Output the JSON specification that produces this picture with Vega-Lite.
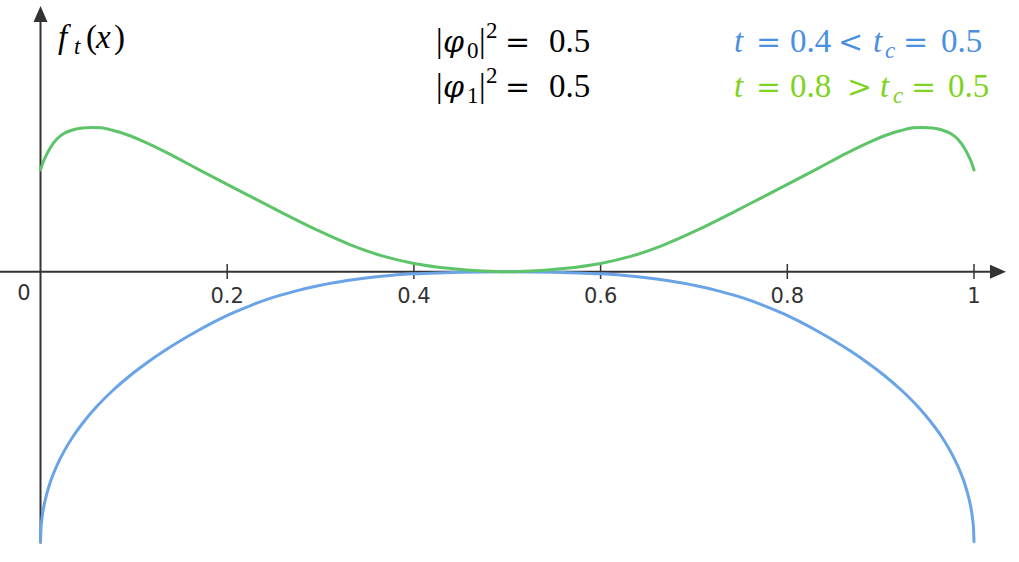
{
  "$schema": "https://vega.github.io/schema/vega-lite/v6.json",
  "width": 1019,
  "height": 562,
  "autosize": {"type": "none"},
  "padding": 0,
  "background": "white",
  "config": {"view": {"stroke": null}},
  "datasets": {
    "one": [{}],
    "curves": [
      {"x": 0, "f": -1.0, "series": "t=0.4"},
      {"x": 0.0005, "f": -0.95, "series": "t=0.4"},
      {"x": 0.001, "f": -0.93, "series": "t=0.4"},
      {"x": 0.0025, "f": -0.89, "series": "t=0.4"},
      {"x": 0.005, "f": -0.846, "series": "t=0.4"},
      {"x": 0.01, "f": -0.784, "series": "t=0.4"},
      {"x": 0.017, "f": -0.722, "series": "t=0.4"},
      {"x": 0.025, "f": -0.666, "series": "t=0.4"},
      {"x": 0.035, "f": -0.609, "series": "t=0.4"},
      {"x": 0.047, "f": -0.5525, "series": "t=0.4"},
      {"x": 0.06, "f": -0.5, "series": "t=0.4"},
      {"x": 0.078, "f": -0.4378, "series": "t=0.4"},
      {"x": 0.096, "f": -0.384, "series": "t=0.4"},
      {"x": 0.114, "f": -0.3366, "series": "t=0.4"},
      {"x": 0.1315, "f": -0.295, "series": "t=0.4"},
      {"x": 0.149, "f": -0.2569, "series": "t=0.4"},
      {"x": 0.167, "f": -0.221, "series": "t=0.4"},
      {"x": 0.185, "f": -0.1876, "series": "t=0.4"},
      {"x": 0.203, "f": -0.157, "series": "t=0.4"},
      {"x": 0.225, "f": -0.125, "series": "t=0.4"},
      {"x": 0.246, "f": -0.0985, "series": "t=0.4"},
      {"x": 0.273, "f": -0.0715, "series": "t=0.4"},
      {"x": 0.3, "f": -0.05, "series": "t=0.4"},
      {"x": 0.327, "f": -0.0335, "series": "t=0.4"},
      {"x": 0.353, "f": -0.021, "series": "t=0.4"},
      {"x": 0.377, "f": -0.0125, "series": "t=0.4"},
      {"x": 0.4, "f": -0.0075, "series": "t=0.4"},
      {"x": 0.425, "f": -0.004, "series": "t=0.4"},
      {"x": 0.45, "f": -0.0017, "series": "t=0.4"},
      {"x": 0.475, "f": -0.0004, "series": "t=0.4"},
      {"x": 0.5, "f": 0, "series": "t=0.4"},
      {"x": 0.525, "f": -0.0004, "series": "t=0.4"},
      {"x": 0.55, "f": -0.0017, "series": "t=0.4"},
      {"x": 0.575, "f": -0.004, "series": "t=0.4"},
      {"x": 0.6, "f": -0.0075, "series": "t=0.4"},
      {"x": 0.623, "f": -0.0125, "series": "t=0.4"},
      {"x": 0.647, "f": -0.021, "series": "t=0.4"},
      {"x": 0.673, "f": -0.0335, "series": "t=0.4"},
      {"x": 0.7, "f": -0.05, "series": "t=0.4"},
      {"x": 0.727, "f": -0.0715, "series": "t=0.4"},
      {"x": 0.754, "f": -0.0985, "series": "t=0.4"},
      {"x": 0.775, "f": -0.125, "series": "t=0.4"},
      {"x": 0.797, "f": -0.157, "series": "t=0.4"},
      {"x": 0.815, "f": -0.1876, "series": "t=0.4"},
      {"x": 0.833, "f": -0.221, "series": "t=0.4"},
      {"x": 0.851, "f": -0.2569, "series": "t=0.4"},
      {"x": 0.8685, "f": -0.295, "series": "t=0.4"},
      {"x": 0.886, "f": -0.3366, "series": "t=0.4"},
      {"x": 0.904, "f": -0.384, "series": "t=0.4"},
      {"x": 0.922, "f": -0.4378, "series": "t=0.4"},
      {"x": 0.94, "f": -0.5, "series": "t=0.4"},
      {"x": 0.953, "f": -0.5525, "series": "t=0.4"},
      {"x": 0.965, "f": -0.609, "series": "t=0.4"},
      {"x": 0.975, "f": -0.666, "series": "t=0.4"},
      {"x": 0.983, "f": -0.722, "series": "t=0.4"},
      {"x": 0.99, "f": -0.784, "series": "t=0.4"},
      {"x": 0.995, "f": -0.846, "series": "t=0.4"},
      {"x": 0.9975, "f": -0.89, "series": "t=0.4"},
      {"x": 0.999, "f": -0.93, "series": "t=0.4"},
      {"x": 0.9995, "f": -0.95, "series": "t=0.4"},
      {"x": 1, "f": -1.0, "series": "t=0.4"},
      {"x": 0, "f": 0.377, "series": "t=0.8"},
      {"x": 0.0025, "f": 0.403, "series": "t=0.8"},
      {"x": 0.005, "f": 0.4233, "series": "t=0.8"},
      {"x": 0.01, "f": 0.4567, "series": "t=0.8"},
      {"x": 0.017, "f": 0.49, "series": "t=0.8"},
      {"x": 0.025, "f": 0.5122, "series": "t=0.8"},
      {"x": 0.035, "f": 0.5259, "series": "t=0.8"},
      {"x": 0.045, "f": 0.5326, "series": "t=0.8"},
      {"x": 0.055, "f": 0.5348, "series": "t=0.8"},
      {"x": 0.065, "f": 0.5333, "series": "t=0.8"},
      {"x": 0.078, "f": 0.5233, "series": "t=0.8"},
      {"x": 0.092, "f": 0.5085, "series": "t=0.8"},
      {"x": 0.107, "f": 0.488, "series": "t=0.8"},
      {"x": 0.139, "f": 0.435, "series": "t=0.8"},
      {"x": 0.167, "f": 0.383, "series": "t=0.8"},
      {"x": 0.203, "f": 0.318, "series": "t=0.8"},
      {"x": 0.23, "f": 0.27, "series": "t=0.8"},
      {"x": 0.257, "f": 0.222, "series": "t=0.8"},
      {"x": 0.296, "f": 0.155, "series": "t=0.8"},
      {"x": 0.332, "f": 0.1, "series": "t=0.8"},
      {"x": 0.367, "f": 0.058, "series": "t=0.8"},
      {"x": 0.4, "f": 0.031, "series": "t=0.8"},
      {"x": 0.44, "f": 0.012, "series": "t=0.8"},
      {"x": 0.474, "f": 0.003, "series": "t=0.8"},
      {"x": 0.5, "f": 0, "series": "t=0.8"},
      {"x": 0.526, "f": 0.003, "series": "t=0.8"},
      {"x": 0.56, "f": 0.012, "series": "t=0.8"},
      {"x": 0.6, "f": 0.031, "series": "t=0.8"},
      {"x": 0.633, "f": 0.058, "series": "t=0.8"},
      {"x": 0.668, "f": 0.1, "series": "t=0.8"},
      {"x": 0.704, "f": 0.155, "series": "t=0.8"},
      {"x": 0.743, "f": 0.222, "series": "t=0.8"},
      {"x": 0.77, "f": 0.27, "series": "t=0.8"},
      {"x": 0.797, "f": 0.318, "series": "t=0.8"},
      {"x": 0.833, "f": 0.383, "series": "t=0.8"},
      {"x": 0.861, "f": 0.435, "series": "t=0.8"},
      {"x": 0.893, "f": 0.488, "series": "t=0.8"},
      {"x": 0.908, "f": 0.5085, "series": "t=0.8"},
      {"x": 0.922, "f": 0.5233, "series": "t=0.8"},
      {"x": 0.935, "f": 0.5333, "series": "t=0.8"},
      {"x": 0.945, "f": 0.5348, "series": "t=0.8"},
      {"x": 0.955, "f": 0.5326, "series": "t=0.8"},
      {"x": 0.965, "f": 0.5259, "series": "t=0.8"},
      {"x": 0.975, "f": 0.5122, "series": "t=0.8"},
      {"x": 0.983, "f": 0.49, "series": "t=0.8"},
      {"x": 0.99, "f": 0.4567, "series": "t=0.8"},
      {"x": 0.995, "f": 0.4233, "series": "t=0.8"},
      {"x": 0.9975, "f": 0.403, "series": "t=0.8"},
      {"x": 1, "f": 0.377, "series": "t=0.8"}
    ],
    "ticks": [
      {"x": 0.2, "label": "0.2"},
      {"x": 0.4, "label": "0.4"},
      {"x": 0.6, "label": "0.6"},
      {"x": 0.8, "label": "0.8"},
      {"x": 1, "label": "1"}
    ],
    "upright": [
      {"s": "|", "x": 0.42368, "y": 0.81407, "g": "state"},
      {"s": "|", "x": 0.46974, "y": 0.81407, "g": "state"},
      {"s": "0.5", "x": 0.54473, "y": 0.81407, "g": "state"},
      {"s": "|", "x": 0.42368, "y": 0.64741, "g": "state"},
      {"s": "|", "x": 0.46974, "y": 0.64741, "g": "state"},
      {"s": "0.5", "x": 0.54473, "y": 0.64741, "g": "state"},
      {"s": "(", "x": 0.04874, "y": 0.82889, "g": "state"},
      {"s": ")", "x": 0.07874, "y": 0.82889, "g": "state"},
      {"s": "0.4", "x": 0.80289, "y": 0.81407, "g": "t=0.4"},
      {"s": "0.5", "x": 0.96465, "y": 0.81407, "g": "t=0.4"},
      {"s": "0.8", "x": 0.80289, "y": 0.64741, "g": "t=0.8"},
      {"s": "0.5", "x": 0.97214, "y": 0.64741, "g": "t=0.8"}
    ],
    "relations": [
      {"s": "=", "x": 0.49759, "y": 0.81407, "g": "state"},
      {"s": "=", "x": 0.49759, "y": 0.64741, "g": "state"},
      {"s": "=", "x": 0.76646, "y": 0.81407, "g": "t=0.4"},
      {"s": "<", "x": 0.85432, "y": 0.81407, "g": "t=0.4"},
      {"s": "=", "x": 0.92394, "y": 0.81407, "g": "t=0.4"},
      {"s": "=", "x": 0.76646, "y": 0.64741, "g": "t=0.8"},
      {"s": ">", "x": 0.86395, "y": 0.64741, "g": "t=0.8"},
      {"s": "=", "x": 0.9325, "y": 0.64741, "g": "t=0.8"}
    ],
    "italic": [
      {"s": "f", "x": 0.01875, "y": 0.82889, "g": "state"},
      {"s": "x", "x": 0.05945, "y": 0.82889, "g": "state"},
      {"s": "t", "x": 0.74291, "y": 0.81407, "g": "t=0.4"},
      {"s": "t", "x": 0.8918, "y": 0.81407, "g": "t=0.4"},
      {"s": "t", "x": 0.74291, "y": 0.64741, "g": "t=0.8"},
      {"s": "t", "x": 0.8993, "y": 0.64741, "g": "t=0.8"}
    ],
    "greek": [
      {"s": "φ", "x": 0.43117, "y": 0.81407, "g": "state"},
      {"s": "φ", "x": 0.43117, "y": 0.64741, "g": "state"}
    ],
    "scriptUpright": [
      {"s": "0", "x": 0.45688, "y": 0.79185, "g": "state"},
      {"s": "1", "x": 0.45688, "y": 0.62519, "g": "state"},
      {"s": "2", "x": 0.47724, "y": 0.86593, "g": "state"},
      {"s": "2", "x": 0.47724, "y": 0.69926, "g": "state"}
    ],
    "scriptItalic": [
      {"s": "t", "x": 0.03589, "y": 0.80667, "g": "state"},
      {"s": "c", "x": 0.90466, "y": 0.79185, "g": "t=0.4"},
      {"s": "c", "x": 0.91323, "y": 0.62519, "g": "t=0.8"}
    ]
  },
  "layer": [
    {
      "data": {"name": "one"},
      "mark": {"type": "rule", "color": "#333333", "strokeWidth": 2},
      "encoding": {
        "x": {"datum": -0.0434, "type": "quantitative", "scale": {"domain": [-0.04339, 1.04821], "nice": false, "zero": false}, "axis": null},
        "x2": {"datum": 1.022},
        "y": {"datum": 0, "type": "quantitative", "scale": {"domain": [-1.07481, 1.00667], "nice": false, "zero": false}, "axis": null}
      }
    },
    {
      "data": {"name": "one"},
      "mark": {"type": "rule", "color": "#333333", "strokeWidth": 2},
      "encoding": {
        "x": {"datum": 0, "type": "quantitative"},
        "y": {"datum": -1.0063, "type": "quantitative"},
        "y2": {"datum": 0.93}
      }
    },
    {
      "data": {"name": "one"},
      "mark": {"type": "point", "shape": "M-1,-0.875L1,0L-1,0.875Z", "size": 256, "filled": true, "opacity": 1, "color": "#333333"},
      "encoding": {
        "x": {"datum": 1.0257, "type": "quantitative"},
        "y": {"datum": 0, "type": "quantitative"}
      }
    },
    {
      "data": {"name": "one"},
      "mark": {"type": "point", "shape": "M-0.875,1L0,-1L0.875,1Z", "size": 256, "filled": true, "opacity": 1, "color": "#333333"},
      "encoding": {
        "x": {"datum": 0, "type": "quantitative"},
        "y": {"datum": 0.9548, "type": "quantitative"}
      }
    },
    {
      "data": {"name": "ticks"},
      "mark": {"type": "rule", "color": "#333333", "strokeWidth": 1.5},
      "encoding": {
        "x": {"field": "x", "type": "quantitative"},
        "y": {"datum": 0.0289, "type": "quantitative"},
        "y2": {"datum": -0.0267}
      }
    },
    {
      "data": {"name": "ticks"},
      "mark": {"type": "text", "font": "DejaVu Sans", "fontSize": 21, "color": "#333333", "align": "center", "baseline": "alphabetic"},
      "encoding": {
        "x": {"field": "x", "type": "quantitative"},
        "y": {"datum": -0.1156, "type": "quantitative"},
        "text": {"field": "label"}
      }
    },
    {
      "data": {"name": "one"},
      "mark": {"type": "text", "font": "DejaVu Sans", "fontSize": 21, "color": "#333333", "align": "right", "baseline": "alphabetic", "dx": -10},
      "encoding": {
        "x": {"datum": 0, "type": "quantitative"},
        "y": {"datum": -0.1044, "type": "quantitative"},
        "text": {"value": "0"}
      }
    },
    {
      "data": {"name": "curves"},
      "mark": {"type": "line", "strokeWidth": 3, "interpolate": "monotone", "strokeCap": "round"},
      "encoding": {
        "x": {"field": "x", "type": "quantitative"},
        "y": {"field": "f", "type": "quantitative"},
        "color": {"field": "series", "type": "nominal", "scale": {"domain": ["t=0.4", "t=0.8"], "range": ["#6aa4e6", "#5ec46a"]}, "legend": null}
      }
    },
    {
      "data": {"name": "upright"},
      "mark": {"type": "text", "font": "Liberation Serif", "fontSize": 33, "align": "left", "baseline": "alphabetic"},
      "encoding": {
        "x": {"field": "x", "type": "quantitative"},
        "y": {"field": "y", "type": "quantitative"},
        "text": {"field": "s"},
        "color": {"field": "g", "type": "nominal", "scale": {"domain": ["state", "t=0.4", "t=0.8"], "range": ["#000000", "#4a90e2", "#7ed321"]}, "legend": null}
      }
    },
    {
      "data": {"name": "relations"},
      "mark": {"type": "text", "font": "DejaVu Serif", "fontSize": 30, "align": "left", "baseline": "alphabetic"},
      "encoding": {
        "x": {"field": "x", "type": "quantitative"},
        "y": {"field": "y", "type": "quantitative"},
        "text": {"field": "s"},
        "color": {"field": "g", "type": "nominal", "scale": {"domain": ["state", "t=0.4", "t=0.8"], "range": ["#000000", "#4a90e2", "#7ed321"]}, "legend": null}
      }
    },
    {
      "data": {"name": "italic"},
      "mark": {"type": "text", "font": "Liberation Serif", "fontStyle": "italic", "fontSize": 33, "align": "left", "baseline": "alphabetic"},
      "encoding": {
        "x": {"field": "x", "type": "quantitative"},
        "y": {"field": "y", "type": "quantitative"},
        "text": {"field": "s"},
        "color": {"field": "g", "type": "nominal", "scale": {"domain": ["state", "t=0.4", "t=0.8"], "range": ["#000000", "#4a90e2", "#7ed321"]}, "legend": null}
      }
    },
    {
      "data": {"name": "greek"},
      "mark": {"type": "text", "font": "DejaVu Serif", "fontStyle": "italic", "fontSize": 30, "align": "left", "baseline": "alphabetic"},
      "encoding": {
        "x": {"field": "x", "type": "quantitative"},
        "y": {"field": "y", "type": "quantitative"},
        "text": {"field": "s"},
        "color": {"field": "g", "type": "nominal", "scale": {"domain": ["state", "t=0.4", "t=0.8"], "range": ["#000000", "#4a90e2", "#7ed321"]}, "legend": null}
      }
    },
    {
      "data": {"name": "scriptUpright"},
      "mark": {"type": "text", "font": "Liberation Serif", "fontSize": 23, "align": "left", "baseline": "alphabetic"},
      "encoding": {
        "x": {"field": "x", "type": "quantitative"},
        "y": {"field": "y", "type": "quantitative"},
        "text": {"field": "s"},
        "color": {"field": "g", "type": "nominal", "scale": {"domain": ["state", "t=0.4", "t=0.8"], "range": ["#000000", "#4a90e2", "#7ed321"]}, "legend": null}
      }
    },
    {
      "data": {"name": "scriptItalic"},
      "mark": {"type": "text", "font": "Liberation Serif", "fontStyle": "italic", "fontSize": 23, "align": "left", "baseline": "alphabetic"},
      "encoding": {
        "x": {"field": "x", "type": "quantitative"},
        "y": {"field": "y", "type": "quantitative"},
        "text": {"field": "s"},
        "color": {"field": "g", "type": "nominal", "scale": {"domain": ["state", "t=0.4", "t=0.8"], "range": ["#000000", "#4a90e2", "#7ed321"]}, "legend": null}
      }
    }
  ],
  "resolve": {"scale": {"color": "independent"}}
}
